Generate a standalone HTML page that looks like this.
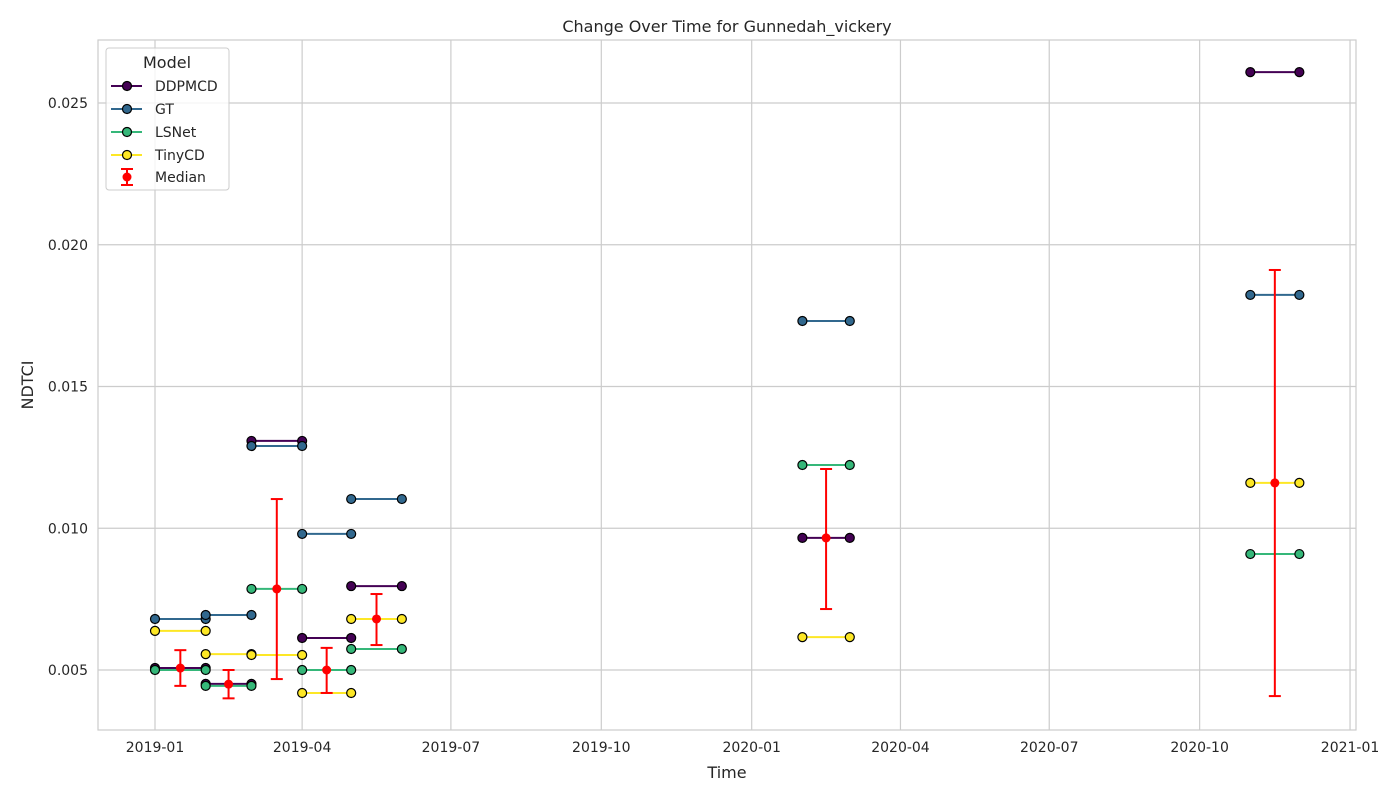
<!DOCTYPE html>
<html><head><meta charset="utf-8"><style>
body{margin:0;background:#fff;font-family:"Liberation Sans","DejaVu Sans",sans-serif;}
svg text{font-family:"DejaVu Sans","Liberation Sans",sans-serif;fill:#262626;}
</style></head><body>
<svg id="chart" width="1400" height="800" xmlns="http://www.w3.org/2000/svg">
<rect width="1400" height="800" fill="#fff"/>
<g id="grid"></g>
<rect x="98" y="40" width="1258" height="690" fill="none" stroke="#ccc" stroke-width="1.2"/>
<g id="marks"></g>
<text x="727" y="32" font-size="16" text-anchor="middle">Change Over Time for Gunnedah_vickery</text>
<text x="727" y="778" font-size="16" text-anchor="middle">Time</text>
<text transform="translate(33,385) rotate(-90)" font-size="16" text-anchor="middle">NDTCI</text>
<g id="legend">
<rect x="106" y="48" width="123" height="142" rx="3" fill="#fff" fill-opacity="0.8" stroke="#ccc"/>
<text x="167" y="68" font-size="16" text-anchor="middle">Model</text>
</g>
</svg>
<script>
const months = ["2019-01-01","2019-02-01","2019-03-01","2019-04-01","2019-05-01","2020-02-01","2020-11-01"];
const monthEnds = ["2019-02-01","2019-03-01","2019-04-01","2019-05-01","2019-06-01","2020-03-01","2020-12-01"];
const models = ["DDPMCD","GT","LSNet","TinyCD"];
const colors = ["#440154","#31688e","#35b779","#fde725"];
const ddpmcd = [0.00507,0.00451,0.01308,0.00613,0.00796,0.00966,0.02609];
const gt     = [0.0068,0.00694,0.0129,0.0098,0.01103,0.01731,0.01823];
const lsnet  = [0.0050,0.00444,0.00786,0.0050,0.00574,0.01223,0.00909];
const tinycd = [0.00638,0.00556,0.00553,0.00419,0.0068,0.00616,0.0116];
const medians = [0.00507,0.0045,0.00786,0.0050,0.0068,0.00966,0.0116];
const errLow  = [0.00444,0.0040,0.00468,0.00419,0.00588,0.00715,0.00408];
const errHigh = [0.0057,0.0050,0.01103,0.00578,0.00768,0.01209,0.01911];
const yTicks = [0.005,0.010,0.015,0.020,0.025];
const yTickLabels = ["0.005","0.010","0.015","0.020","0.025"];
const xTicks = ["2019-01-01","2019-04-01","2019-07-01","2019-10-01","2020-01-01","2020-04-01","2020-07-01","2020-10-01","2021-01-01"];
const xTickLabels = ["2019-01","2019-04","2019-07","2019-10","2020-01","2020-04","2020-07","2020-10","2021-01"];
const series = [ddpmcd,gt,lsnet,tinycd];

const NS="http://www.w3.org/2000/svg";
const t0=Date.UTC(2019,0,1);
function day(s){const p=s.split("-");return (Date.UTC(+p[0],+p[1]-1,+p[2])-t0)/86400000;}
function X(d){return 155+day(d)*1.6348;}
function Xd(n){return 155+n*1.6348;}
function Y(v){return 670-(v-0.005)*28350;}
function mk(tag,attrs,parent){const e=document.createElementNS(NS,tag);for(const k in attrs)e.setAttribute(k,attrs[k]);parent.appendChild(e);return e;}
const grid=document.getElementById("grid"),marks=document.getElementById("marks"),svg=document.getElementById("chart");

yTicks.forEach((v,i)=>{
  const l=mk("line",{x1:98,x2:1356,y1:Y(v),y2:Y(v),stroke:"#ccc","stroke-width":1.2},grid);
  
  
  const t=mk("text",{x:88,y:Y(v)+5,"font-size":14,"text-anchor":"end"},svg);
  t.textContent=yTickLabels[i];
  
  
});
xTicks.forEach((d,i)=>{
  const l=mk("line",{x1:X(d),x2:X(d),y1:40,y2:730,stroke:"#ccc","stroke-width":1.2},grid);
  
  
  const t=mk("text",{x:X(d),y:752,"font-size":14,"text-anchor":"middle"},svg);
  t.textContent=xTickLabels[i];
  
  
});

series.forEach((vals,si)=>{
  vals.forEach((v,i)=>{
    const x1=X(months[i]),x2=X(monthEnds[i]),y=Y(v);
    const l=mk("line",{x1:x1,x2:x2,y1:y,y2:y,stroke:colors[si],"stroke-width":2},marks);
    
    
    [x1,x2].forEach(x=>{
      const c=mk("circle",{cx:x,cy:y,r:4.5,fill:colors[si],stroke:"#000","stroke-width":1.2},marks);
      
      
    });
  });
});
medians.forEach((m,i)=>{
  const xm=Xd((day(months[i])+day(monthEnds[i]))/2);
  const g=mk("g",{},marks);
  
  
  mk("line",{x1:xm,x2:xm,y1:Y(errLow[i]),y2:Y(errHigh[i]),stroke:"red","stroke-width":2},g);
  mk("line",{x1:xm-6,x2:xm+6,y1:Y(errLow[i]),y2:Y(errLow[i]),stroke:"red","stroke-width":2},g);
  mk("line",{x1:xm-6,x2:xm+6,y1:Y(errHigh[i]),y2:Y(errHigh[i]),stroke:"red","stroke-width":2},g);
  mk("circle",{cx:xm,cy:Y(m),r:4.5,fill:"red"},g);
});

const lg=document.getElementById("legend");
models.forEach((m,i)=>{
  const y=86+i*23;
  const g=mk("g",{},lg);
  
  
  mk("line",{x1:111,x2:142,y1:y,y2:y,stroke:colors[i],"stroke-width":2},g);
  mk("circle",{cx:127,cy:y,r:4.5,fill:colors[i],stroke:"#000","stroke-width":1.2},g);
  const t=mk("text",{x:155,y:y+5,"font-size":14},g);t.textContent=m;
});
(function(){
  const y=177;
  const g=mk("g",{},lg);
  
  
  mk("line",{x1:127,x2:127,y1:y-8,y2:y+8,stroke:"red","stroke-width":2},g);
  mk("line",{x1:121,x2:133,y1:y-8,y2:y-8,stroke:"red","stroke-width":2},g);
  mk("line",{x1:121,x2:133,y1:y+8,y2:y+8,stroke:"red","stroke-width":2},g);
  mk("circle",{cx:127,cy:y,r:4.5,fill:"red"},g);
  const t=mk("text",{x:155,y:y+5,"font-size":14},g);t.textContent="Median";
})();
</script>
</body></html>
